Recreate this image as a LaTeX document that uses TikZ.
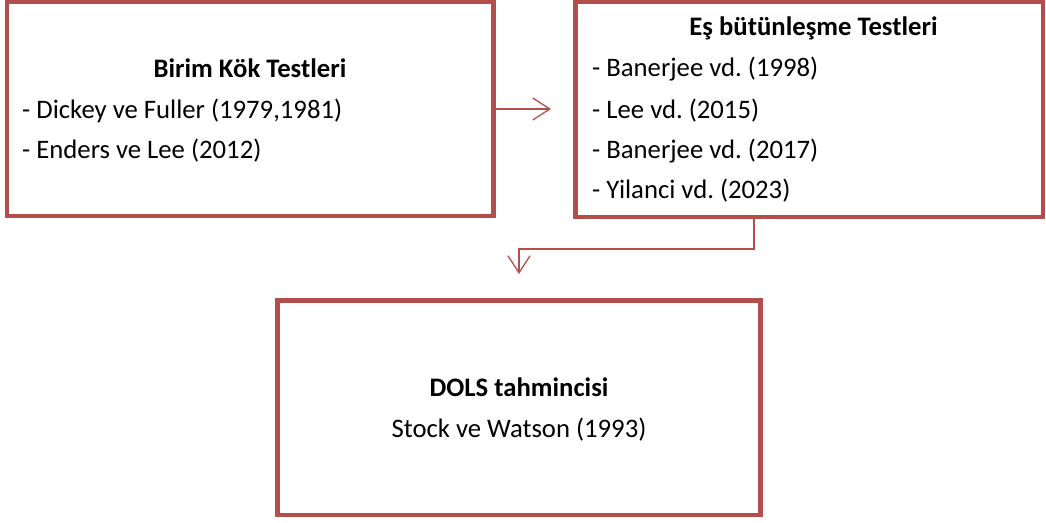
\documentclass[tikz,border=0pt]{standalone}
\usepackage{fontspec}
\setmainfont{Carlito}
\usetikzlibrary{arrows.meta}
\definecolor{boxred}{RGB}{180,78,75}
\frenchspacing
\begin{document}
\begin{tikzpicture}[x=1pt,y=-1pt,
  box/.style={draw=boxred,line width=4.5pt,rectangle,inner sep=0pt,fill=white},
  conn/.style={draw=boxred,line width=1.3pt,-{Straight Barb[length=17pt,width=22pt,line width=1.3pt]}},
  txt/.style={inner sep=0pt,font=\fontsize{26.7}{32}\selectfont},
  ttl/.style={txt,font=\fontsize{26.7}{32}\selectfont\bfseries}]
\useasboundingbox (0,0) rectangle (1046,522);
\node[box,minimum width=486.5pt,minimum height=214pt] (left) at (250.25,109) {};
\node[box,minimum width=467.5pt,minimum height=215pt] (right) at (809.25,109.5) {};
\node[box,minimum width=483pt,minimum height=214.5pt] (bottom) at (519,407.75) {};
% texts
\node[ttl,anchor=base] (t1) at (250,77) {Birim Kök Testleri};
\node[txt,anchor=base west] (t1a) at (22,118) {- Dickey ve Fuller (1979,1981)};
\node[txt,anchor=base west] (t1b) at (22,158) {- Enders ve Lee (2012)};
\node[ttl,anchor=base] (t2) at (813.5,35) {Eş bütünleşme Testleri};
\node[txt,anchor=base west] (t2a) at (592,76) {- Banerjee vd. (1998)};
\node[txt,anchor=base west] (t2b) at (592,118) {- Lee vd. (2015)};
\node[txt,anchor=base west] (t2c) at (592,158) {- Banerjee vd. (2017)};
\node[txt,anchor=base west] (t2d) at (592,198) {- Yilanci vd. (2023)};
\node[ttl,anchor=base] (t3) at (519,396) {DOLS tahmincisi};
\node[txt,anchor=base] (t3a) at (519,437) {Stock ve Watson (1993)};
% connectors
\coordinate (e1) at (551,109);
\draw[conn] (left.east) -- (e1);
\coordinate (c1) at (754,249);
\coordinate (e2) at (519,274);
\draw[conn] (right.south -| c1) -- (c1) -| (e2);
\end{tikzpicture}
\end{document}
